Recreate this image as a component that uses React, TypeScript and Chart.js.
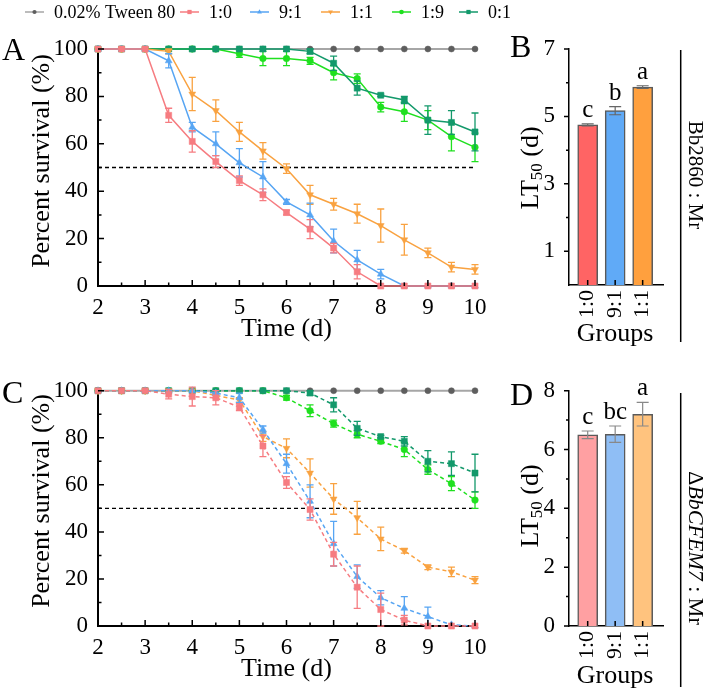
import React, { useEffect, useRef } from 'react';
import { Chart, registerables } from 'chart.js';

Chart.register(...registerables);

const SERIF = "'Liberation Serif', 'Times New Roman', Times, serif";
Chart.defaults.font.family = SERIF;
Chart.defaults.color = '#000';

// ---------- data ----------
const days = [2, 2.5, 3, 3.5, 4, 4.5, 5, 5.5, 6, 6.5, 7, 7.5, 8, 8.5, 9, 9.5, 10];
const xMajor = [2, 3, 4, 5, 6, 7, 8, 9, 10];
const xMinor = [2.5, 3.5, 4.5, 5.5, 6.5, 7.5, 8.5, 9.5];
const yMajor = [0, 20, 40, 60, 80, 100];
const yMinor = [10, 30, 50, 70, 90];
const halfSurvival = 50;
const seriesLabels = ['0.02% Tween 80', '1:0', '9:1', '1:1', '1:9', '0:1'];

// Panel A (Bb2860 : Mr)
const aTween = [100, 100, 100, 100, 100, 100, 100, 100, 100, 100, 100, 100, 100, 100, 100, 100, 100];
const a10 = [100, 100, 100, 72, 61, 52.5, 44.5, 38.5, 31, 24, 16, 6, 0, 0, 0, 0, 0];
const a10Err = [0, 0, 0, 3, 4.5, 2.5, 2, 2.5, 1, 4, 2, 3, 0, 0, 0, 0, 0];
const a91 = [100, 100, 100, 95, 67, 60, 52, 46, 35.5, 30, 19, 11, 5, 0, 0, 0, 0];
const a91Err = [0, 0, 0, 3, 2, 5, 6, 6.5, 1, 5, 5, 4, 2, 0, 0, 0, 0];
const a11 = [100, 100, 100, 99, 81, 74, 65, 57, 49.5, 38.5, 34.5, 30.5, 25.5, 19.5, 14, 8, 7];
const a11Err = [0, 0, 0, 1, 7, 4.5, 4, 3.5, 2, 4, 2.5, 4, 7, 6.5, 2, 2, 2];
const a19 = [100, 100, 100, 100, 100, 100, 98, 96, 96, 95, 90, 87.5, 75.5, 73.5, 70, 63, 58.5];
const a19Err = [0, 0, 0, 0, 0, 0, 1.5, 3, 3, 1.5, 3, 2, 2, 4, 4, 6, 6];
const a01 = [100, 100, 100, 100, 100, 100, 100, 100, 100, 99, 94, 83.5, 80.5, 78.5, 70, 69, 65];
const a01Err = [0, 0, 0, 0, 0, 0, 0, 0, 0, 1, 3, 3, 0.5, 1.5, 6, 5, 8];

// Panel C (ΔBbCFEM7 : Mr)
const cTween = [100, 100, 100, 100, 100, 100, 100, 100, 100, 100, 100, 100, 100, 100, 100, 100, 100];
const c10 = [100, 100, 100, 98.5, 97.5, 97, 93, 76.5, 61, 49.5, 30.5, 16.5, 7, 2.5, 0, 0, 0];
const c10Err = [0, 0, 0, 2, 4, 3, 1.5, 4.5, 2.5, 4.5, 5, 9, 7, 2, 0, 0, 0];
const c91 = [100, 100, 100, 100, 100, 99, 97, 83.5, 69, 53, 35, 21, 12, 7.5, 4, 0.5, 0];
const c91Err = [0, 0, 0, 0, 0, 1, 2, 1.5, 4, 7, 9.5, 5, 3, 5, 4, 0, 0];
const c11 = [100, 100, 100, 100, 100, 98, 96, 80.5, 75.5, 65, 54, 46, 37, 32, 25, 23, 19.5];
const c11Err = [0, 0, 0, 0, 0, 1, 1, 2, 4, 6, 6.5, 7, 5, 1, 1, 2, 1.5];
const c19 = [100, 100, 100, 100, 100, 100, 100, 100, 97, 91.5, 86, 81.5, 78.5, 75, 66.5, 60.5, 53.5];
const c19Err = [0, 0, 0, 0, 0, 0, 0, 0, 1, 2.5, 1.5, 1.5, 1, 3, 2, 3, 3.5];
const c01 = [100, 100, 100, 100, 100, 100, 100, 100, 100, 99, 94, 84, 80.5, 78.5, 70, 69, 65];
const c01Err = [0, 0, 0, 0, 0, 0, 0, 0, 0, 1, 3, 3, 0.5, 2, 4.5, 5, 8];

// LT50 bars
const groups = ['1:0', '9:1', '1:1'];
const lt50B = [4.75, 5.17, 5.87];
const lt50BErr = [0.03, 0.12, 0.04];
const lettersB = ['c', 'b', 'a'];
const bMajor = [1, 3, 5, 7];
const bMinor = [2, 4, 6];
const lt50D = [6.5, 6.52, 7.2];
const lt50DErr = [0.13, 0.28, 0.4];
const lettersD = ['c', 'bc', 'a'];
const dMajor = [0, 2, 4, 6, 8];
const dMinor = [1, 3, 5, 7];

// ---------- styles ----------
const STYLES = [
  { color: '#5e5e5e', line: '#a6a6a6', style: 'circle', r: 3, rot: 0, order: 6, lw: 2 },
  { color: '#f67c81', line: '#f67c81', style: 'rect', r: 4.3, rot: 0, order: 1, lw: 1.5 },
  { color: '#57a5f3', line: '#57a5f3', style: 'triangle', r: 4, rot: 0, order: 2, lw: 1.5 },
  { color: '#f9a240', line: '#f9a240', style: 'triangle', r: 4, rot: 180, order: 3, lw: 1.5 },
  { color: '#1fe01f', line: '#1fe01f', style: 'circle', r: 3.3, rot: 0, order: 5, lw: 1.5 },
  { color: '#13996b', line: '#13996b', style: 'rect', r: 4.3, rot: 0, order: 4, lw: 1.5 },
];
const barColorsB = ['#ff6464', '#60aaf7', '#ffa03e'];
const barColorsD = ['#ffa0a2', '#8fbef5', '#ffc37e'];

type Run = { t: string; f: string; dy?: number };
type Note = { x: number; y: number; rot?: number; align?: 'left' | 'center' | 'right'; base?: CanvasTextBaseline; runs: Run[] };

const f = (size: number, style = '') => `${style} ${size}px ${SERIF}`.trim();

function drawMarker(ctx: CanvasRenderingContext2D, style: string, x: number, y: number, r: number, rot: number) {
  ctx.beginPath();
  if (style === 'circle') {
    ctx.arc(x, y, r, 0, Math.PI * 2);
  } else if (style === 'rect') {
    const s = r * Math.SQRT1_2;
    ctx.rect(x - s, y - s, 2 * s, 2 * s);
  } else {
    const sgn = rot === 180 ? -1 : 1;
    ctx.moveTo(x, y - sgn * r);
    ctx.lineTo(x - r * 0.866, y + sgn * r * 0.5);
    ctx.lineTo(x + r * 0.866, y + sgn * r * 0.5);
    ctx.closePath();
  }
  ctx.fill();
}

function notesPlugin(items: Note[], lines: number[][] = []) {
  return {
    id: 'notes',
    afterDraw(chart: any) {
      const ctx: CanvasRenderingContext2D = chart.ctx;
      ctx.save();
      ctx.strokeStyle = '#000';
      ctx.lineWidth = 1.5;
      lines.forEach(([x1, y1, x2, y2]) => {
        ctx.beginPath();
        ctx.moveTo(x1, y1);
        ctx.lineTo(x2, y2);
        ctx.stroke();
      });
      ctx.restore();
      items.forEach((n) => {
        ctx.save();
        ctx.translate(n.x, n.y);
        if (n.rot) ctx.rotate(n.rot);
        ctx.fillStyle = '#000';
        ctx.textBaseline = n.base || 'alphabetic';
        ctx.textAlign = 'left';
        let total = 0;
        n.runs.forEach((r) => {
          ctx.font = r.f;
          total += ctx.measureText(r.t).width;
        });
        let x0 = n.align === 'left' ? 0 : n.align === 'right' ? -total : -total / 2;
        n.runs.forEach((r) => {
          ctx.font = r.f;
          ctx.fillText(r.t, x0, r.dy || 0);
          x0 += ctx.measureText(r.t).width;
        });
        ctx.restore();
      });
    },
  };
}

function axisTicks(cfg: { xMajor: number[]; xMinor: number[]; yMajor: number[]; yMinor: number[]; xDir: number; yDir: number; major: number; minor: number; width: number }) {
  return {
    id: 'axisTicks',
    afterDraw(chart: any) {
      const ctx: CanvasRenderingContext2D = chart.ctx;
      const a = chart.chartArea;
      const xs = chart.scales.x;
      const ys = chart.scales.y;
      ctx.save();
      ctx.strokeStyle = '#000';
      ctx.lineWidth = cfg.width;
      ctx.beginPath();
      const xt = (v: number, len: number) => {
        const p = xs.getPixelForValue(v);
        ctx.moveTo(p, a.bottom);
        ctx.lineTo(p, a.bottom + cfg.xDir * len);
      };
      const yt = (v: number, len: number) => {
        const p = ys.getPixelForValue(v);
        ctx.moveTo(a.left, p);
        ctx.lineTo(a.left + cfg.yDir * len, p);
      };
      cfg.xMajor.forEach((v) => xt(v, cfg.major));
      cfg.xMinor.forEach((v) => xt(v, cfg.minor));
      cfg.yMajor.forEach((v) => yt(v, cfg.major));
      cfg.yMinor.forEach((v) => yt(v, cfg.minor));
      ctx.stroke();
      ctx.restore();
    },
  };
}

function drawErrors(chart: any, index: number, meta: any) {
  const ds = chart.data.datasets[index];
  if (!ds.errors) return;
  const ctx: CanvasRenderingContext2D = chart.ctx;
  const ys = chart.scales[meta.yAxisID];
  ctx.save();
  ctx.strokeStyle = ds.errColor || ds.borderColor;
  ctx.lineWidth = ds.errWidth || 1.3;
  const cap = ds.capHalf || 3.5;
  ctx.setLineDash([]);
  meta.data.forEach((el: any, i: number) => {
    const e = ds.errors[i];
    if (!e) return;
    const v = ds.data[i].y;
    const t = ys.getPixelForValue(v + e);
    const b = ys.getPixelForValue(v - e);
    ctx.beginPath();
    ctx.moveTo(el.x, t);
    ctx.lineTo(el.x, b);
    ctx.moveTo(el.x - cap, t);
    ctx.lineTo(el.x + cap, t);
    ctx.moveTo(el.x - cap, b);
    ctx.lineTo(el.x + cap, b);
    ctx.stroke();
  });
  ctx.restore();
}

const errorBars = {
  id: 'errorBars',
  beforeDatasetDraw(chart: any, args: any) {
    const ds = chart.data.datasets[args.index];
    if (ds.errors && !ds.errOver) drawErrors(chart, args.index, args.meta);
  },
  afterDatasetDraw(chart: any, args: any) {
    const ds = chart.data.datasets[args.index];
    if (ds.errors && ds.errOver) drawErrors(chart, args.index, args.meta);
  },
};

const legendX = [25, 180, 250, 321, 392, 459];
const topLegend = {
  id: 'topLegend',
  afterDraw(chart: any) {
    const ctx: CanvasRenderingContext2D = chart.ctx;
    const y = 12;
    legendX.forEach((x0, k) => {
      const s = STYLES[k];
      ctx.save();
      ctx.strokeStyle = s.line;
      ctx.lineWidth = 1.5;
      ctx.beginPath();
      ctx.moveTo(x0, y);
      ctx.lineTo(x0 + 19, y);
      ctx.stroke();
      ctx.fillStyle = s.color;
      drawMarker(ctx, s.style, x0 + 9.5, y, s.r * 0.7, s.rot);
      ctx.fillStyle = '#000';
      ctx.font = f(18);
      ctx.textBaseline = 'middle';
      ctx.textAlign = 'left';
      ctx.fillText(seriesLabels[k], x0 + 29, y + 1);
      ctx.restore();
    });
  },
};

function lineDatasets(values: number[][], errs: (number[] | null)[], dashed: boolean) {
  const ds: any[] = values.map((v, k) => {
    const s = STYLES[k];
    return {
      label: seriesLabels[k],
      data: days.map((d, i) => ({ x: d, y: v[i] })),
      errors: errs[k],
      borderColor: s.line,
      backgroundColor: s.color,
      pointBackgroundColor: s.color,
      pointBorderColor: s.color,
      pointStyle: s.style,
      pointRotation: s.rot,
      pointRadius: s.r,
      pointBorderWidth: 0.5,
      borderWidth: s.lw,
      borderDash: dashed && k > 0 ? [4, 3] : [],
      errColor: s.color,
      order: s.order,
      clip: false,
      tension: 0,
    };
  });
  ds.push({
    label: 'half',
    data: [
      { x: xMajor[0], y: halfSurvival },
      { x: xMajor[xMajor.length - 1], y: halfSurvival },
    ],
    borderColor: '#000',
    borderWidth: 1.3,
    borderDash: [4, 3],
    pointRadius: 0,
    order: 7,
    clip: false,
  });
  return ds;
}

const tickFont = { family: SERIF, size: 23, lineHeight: 1.2 };

function lineConfig(p: { values: number[][]; errs: number[][]; dashed: boolean; canvasH: number; top: number; bottom: number; notes: Note[]; legend: boolean }) {
  const plugins: any[] = [
    errorBars,
    axisTicks({ xMajor, xMinor, yMajor, yMinor, xDir: -1, yDir: 1, major: 6, minor: 3.5, width: 1.5 }),
    notesPlugin(p.notes),
  ];
  if (p.legend) plugins.push(topLegend);
  return {
    type: 'line',
    data: { datasets: lineDatasets(p.values, p.errs, p.dashed) },
    options: {
      responsive: false,
      animation: false,
      layout: { padding: { left: 0, right: 705 - 475, top: p.top, bottom: p.canvasH - p.bottom - 56 } },
      plugins: { legend: { display: false }, tooltip: { enabled: false } },
      scales: {
        x: {
          type: 'linear',
          min: 2,
          max: 10,
          afterBuildTicks: (s: any) => {
            s.ticks = xMajor.map((v) => ({ value: v }));
          },
          ticks: { font: tickFont, color: '#000', padding: 0, maxRotation: 0, autoSkip: false },
          grid: { display: false },
          border: { color: '#000', width: 2 },
          afterFit: (s: any) => {
            s.height = 56;
          },
        },
        y: {
          type: 'linear',
          min: 0,
          max: 100,
          afterBuildTicks: (s: any) => {
            s.ticks = yMajor.map((v) => ({ value: v }));
          },
          ticks: { font: tickFont, color: '#000', padding: 2 },
          grid: { display: false },
          border: { color: '#000', width: 2 },
          afterFit: (s: any) => {
            s.width = 98;
          },
        },
      },
    },
    plugins,
  };
}

function barConfig(p: { vals: number[]; errs: number[]; letters: string[]; colors: string[]; yMax: number; major: number[]; minor: number[]; canvasH: number; top: number; bottom: number; notes: Note[]; lines: number[][]; errColor: string }) {
  const letterPlugin = {
    id: 'letters',
    afterDraw(chart: any) {
      const ctx: CanvasRenderingContext2D = chart.ctx;
      const xs = chart.scales.x;
      const ys = chart.scales.y;
      const a = chart.chartArea;
      ctx.save();
      ctx.fillStyle = '#000';
      ctx.font = f(25);
      ctx.textAlign = 'center';
      ctx.textBaseline = 'alphabetic';
      p.letters.forEach((l, i) => {
        ctx.fillText(l, xs.getPixelForValue(i), ys.getPixelForValue(p.vals[i] + p.errs[i]) - 7);
      });
      // category labels, rotated
      ctx.font = f(22);
      ctx.textAlign = 'right';
      ctx.textBaseline = 'middle';
      groups.forEach((g, i) => {
        ctx.save();
        ctx.translate(xs.getPixelForValue(i), a.bottom + 5);
        ctx.rotate(-Math.PI / 2);
        ctx.fillText(g, 0, 0);
        ctx.restore();
      });
      ctx.restore();
    },
  };
  return {
    type: 'bar',
    data: {
      datasets: [
        {
          data: p.vals.map((v, i) => ({ x: i, y: v })),
          errors: p.errs,
          errOver: true,
          errColor: p.errColor,
          errWidth: 1.2,
          capHalf: 6,
          backgroundColor: p.colors,
          borderColor: '#5a5a5a',
          borderWidth: 1.5,
          barThickness: 20,
        },
      ],
    },
    options: {
      responsive: false,
      animation: false,
      layout: { padding: { left: 0, right: 225 - 183, top: p.top, bottom: p.canvasH - p.bottom - 58 } },
      plugins: { legend: { display: false }, tooltip: { enabled: false } },
      scales: {
        x: {
          type: 'linear',
          offset: false,
          min: -0.68,
          max: 2.74,
          afterBuildTicks: (s: any) => {
            s.ticks = groups.map((_, i) => ({ value: i }));
          },
          ticks: { display: false },
          grid: { display: false },
          border: { color: '#000', width: 1.5 },
          afterFit: (s: any) => {
            s.height = 58;
          },
        },
        y: {
          type: 'linear',
          min: 0,
          max: p.yMax,
          afterBuildTicks: (s: any) => {
            s.ticks = p.major.map((v) => ({ value: v }));
          },
          ticks: { font: tickFont, color: '#000', padding: 6 },
          grid: { display: false },
          border: { color: '#000', width: 1.5 },
          afterFit: (s: any) => {
            s.width = 89;
          },
        },
      },
    },
    plugins: [
      errorBars,
      axisTicks({ xMajor: [0, 1, 2], xMinor: [], yMajor: p.major, yMinor: p.minor, xDir: -1, yDir: -1, major: 5, minor: 3, width: 1.5 }),
      letterPlugin,
      notesPlugin(p.notes, p.lines),
    ],
  };
}

const titleF = f(26);
const letterF = f(32);

function ChartCanvas({ make, left, top, width, height }: { make: () => any; left: number; top: number; width: number; height: number }) {
  const ref = useRef<HTMLCanvasElement>(null);
  useEffect(() => {
    const chart = new Chart(ref.current as HTMLCanvasElement, make());
    let alive = true;
    const fs = (document as any).fonts;
    if (fs && fs.load) {
      Promise.all([fs.load(`23px ${SERIF}`), fs.load(`italic 21px ${SERIF}`)])
        .then(() => {
          if (alive) chart.update();
        })
        .catch(() => {});
    }
    return () => {
      alive = false;
      chart.destroy();
    };
  }, []);
  return <canvas ref={ref} width={width} height={height} style={{ position: 'absolute', left, top, width, height }} />;
}

export default function App() {
  const makeA = () =>
    lineConfig({
      values: [aTween, a10, a91, a11, a19, a01],
      errs: [null as any, a10Err, a91Err, a11Err, a19Err, a01Err],
      dashed: false,
      canvasH: 350,
      top: 49,
      bottom: 286,
      legend: true,
      notes: [
        { x: 2, y: 60, align: 'left', runs: [{ t: 'A', f: letterF }] },
        { x: 42, y: 161, rot: -Math.PI / 2, base: 'middle', runs: [{ t: 'Percent survival (%)', f: titleF }] },
        { x: 286.5, y: 335.5, runs: [{ t: 'Time (d)', f: titleF }] },
      ],
    });
  const makeC = () =>
    lineConfig({
      values: [cTween, c10, c91, c11, c19, c01],
      errs: [null as any, c10Err, c91Err, c11Err, c19Err, c01Err],
      dashed: true,
      canvasH: 343,
      top: 40.7,
      bottom: 276,
      legend: false,
      notes: [
        { x: 2, y: 53, align: 'left', runs: [{ t: 'C', f: letterF }] },
        { x: 42, y: 151, rot: -Math.PI / 2, base: 'middle', runs: [{ t: 'Percent survival (%)', f: titleF }] },
        { x: 286.5, y: 325.5, runs: [{ t: 'Time (d)', f: titleF }] },
      ],
    });
  const lt = (x: number, y: number): Note => ({
    x,
    y,
    rot: -Math.PI / 2,
    base: 'middle',
    runs: [
      { t: 'LT', f: titleF },
      { t: '50', f: f(17), dy: 7 },
      { t: ' (d)', f: titleF },
    ],
  });
  const makeB = () =>
    barConfig({
      vals: lt50B,
      errs: lt50BErr,
      letters: lettersB,
      colors: barColorsB,
      yMax: 7,
      major: bMajor,
      minor: bMinor,
      canvasH: 350,
      top: 49,
      bottom: 285,
      errColor: '#666',
      lines: [[200.7, 50, 200.7, 342]],
      notes: [
        { x: 30, y: 57, align: 'left', runs: [{ t: 'B', f: letterF }] },
        lt(51, 168),
        { x: 135, y: 341, runs: [{ t: 'Groups', f: titleF }] },
        { x: 215, y: 175, rot: Math.PI / 2, base: 'middle', runs: [{ t: 'Bb2860 : Mr', f: f(21) }] },
      ],
    });
  const makeD = () =>
    barConfig({
      vals: lt50D,
      errs: lt50DErr,
      letters: lettersD,
      colors: barColorsD,
      yMax: 8,
      major: dMajor,
      minor: dMinor,
      canvasH: 343,
      top: 40.7,
      bottom: 276,
      errColor: '#888',
      lines: [[200.7, 43, 200.7, 337]],
      notes: [
        { x: 30, y: 55, align: 'left', runs: [{ t: 'D', f: letterF }] },
        lt(51, 156),
        { x: 135, y: 333, runs: [{ t: 'Groups', f: titleF }] },
        {
          x: 215,
          y: 198,
          rot: Math.PI / 2,
          base: 'middle',
          runs: [
            { t: 'Δ', f: f(22) },
            { t: 'BbCFEM7', f: f(22, 'italic') },
            { t: ' : Mr', f: f(22) },
          ],
        },
      ],
    });
  return (
    <div style={{ position: 'fixed', left: 0, top: 0, width: 705, height: 693, background: '#fff', overflow: 'hidden' }}>
      <ChartCanvas make={makeA} left={0} top={0} width={705} height={350} />
      <ChartCanvas make={makeC} left={0} top={350} width={705} height={343} />
      <ChartCanvas make={makeB} left={480} top={0} width={225} height={350} />
      <ChartCanvas make={makeD} left={480} top={350} width={225} height={343} />
    </div>
  );
}
